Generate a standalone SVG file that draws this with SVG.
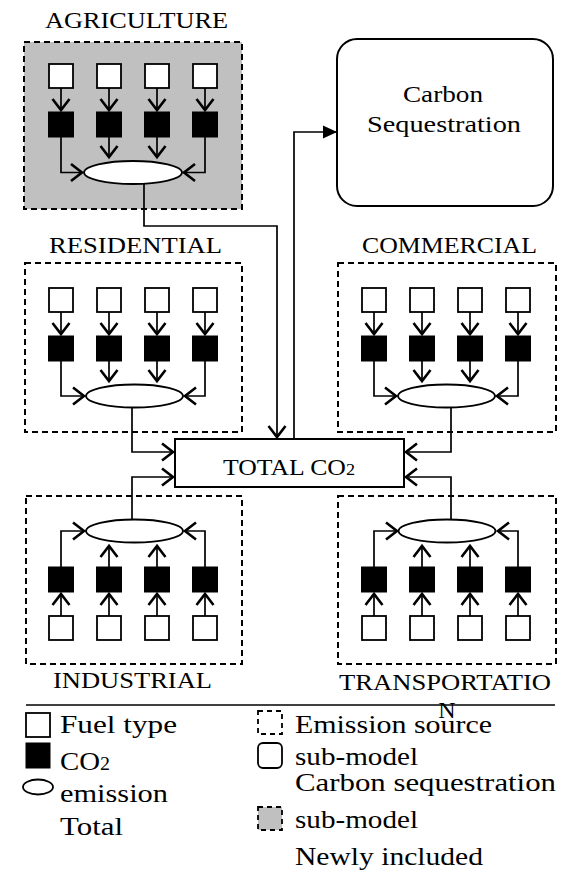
<svg xmlns="http://www.w3.org/2000/svg" xmlns:xlink="http://www.w3.org/1999/xlink" width="566" height="871" viewBox="0 0 566 871">
<style>
text{font-family:'Liberation Serif','DejaVu Serif',serif;fill:#000}
.lbl{font-size:24px}
.leg{font-size:26px}
.src{fill:none;stroke:#000;stroke-width:2;stroke-dasharray:6 4}
.srcg{fill:#c0c0c0;stroke:#000;stroke-width:2;stroke-dasharray:6 4}
.fuel{fill:#fff;stroke:#000;stroke-width:1.8}
.co2{fill:#000;stroke:#000;stroke-width:1}
.tot{fill:#fff;stroke:#000;stroke-width:1.8}
.c{fill:none;stroke:#000;stroke-width:1.7}
.ah{fill:none;stroke:#000;stroke-width:2.6;stroke-linejoin:miter}
</style>
<defs>
<path id="ah" class="ah" d="M-11,-8.5 L0,0 L-11,8.5"/>
<marker id="fa" markerUnits="userSpaceOnUse" markerWidth="16" markerHeight="14" refX="14" refY="6.5" orient="auto" overflow="visible">
<path d="M0,0 L14,6.5 L0,13 Z" fill="#000"/>
</marker>
</defs>

<g id="agriculture">
<text class="lbl" x="136.5" y="28" text-anchor="middle" textLength="183" lengthAdjust="spacingAndGlyphs">AGRICULTURE</text>
<rect class="srcg" x="24" y="42" width="218" height="167"/>
<rect class="fuel" x="49" y="64" width="24" height="24"/><rect class="fuel" x="97" y="64" width="24" height="24"/><rect class="fuel" x="145" y="64" width="24" height="24"/><rect class="fuel" x="193" y="64" width="24" height="24"/>
<rect class="co2" x="48.5" y="112" width="25" height="25"/><rect class="co2" x="96.5" y="112" width="25" height="25"/><rect class="co2" x="144.5" y="112" width="25" height="25"/><rect class="co2" x="192.5" y="112" width="25" height="25"/>
<ellipse class="tot" cx="133" cy="172.5" rx="49" ry="11.5"/>
</g>

<g id="carbon-sequestration">
<rect x="337" y="39" width="216" height="167" rx="20" fill="#fff" stroke="#000" stroke-width="2"/>
<text class="lbl" x="443" y="102" text-anchor="middle" textLength="80" lengthAdjust="spacingAndGlyphs">Carbon</text>
<text class="lbl" x="444" y="132" text-anchor="middle" textLength="154" lengthAdjust="spacingAndGlyphs">Sequestration</text>
</g>

<g id="residential">
<text class="lbl" x="135.5" y="253" text-anchor="middle" textLength="173" lengthAdjust="spacingAndGlyphs">RESIDENTIAL</text>
<rect class="src" x="25" y="263" width="217" height="169"/>
<rect class="fuel" x="49" y="288" width="24" height="24"/><rect class="fuel" x="97" y="288" width="24" height="24"/><rect class="fuel" x="145" y="288" width="24" height="24"/><rect class="fuel" x="193" y="288" width="24" height="24"/>
<rect class="co2" x="48.5" y="336" width="25" height="25"/><rect class="co2" x="96.5" y="336" width="25" height="25"/><rect class="co2" x="144.5" y="336" width="25" height="25"/><rect class="co2" x="192.5" y="336" width="25" height="25"/>
<ellipse class="tot" cx="134.5" cy="396" rx="48.5" ry="11.5"/>
</g>

<g id="commercial">
<text class="lbl" x="449.5" y="253" text-anchor="middle" textLength="175" lengthAdjust="spacingAndGlyphs">COMMERCIAL</text>
<rect class="src" x="338" y="263" width="218" height="169"/>
<rect class="fuel" x="362" y="288" width="24" height="24"/><rect class="fuel" x="410" y="288" width="24" height="24"/><rect class="fuel" x="458" y="288" width="24" height="24"/><rect class="fuel" x="506" y="288" width="24" height="24"/>
<rect class="co2" x="361.5" y="336" width="25" height="25"/><rect class="co2" x="409.5" y="336" width="25" height="25"/><rect class="co2" x="457.5" y="336" width="25" height="25"/><rect class="co2" x="505.5" y="336" width="25" height="25"/>
<ellipse class="tot" cx="446.5" cy="396" rx="48.5" ry="11.5"/>
</g>

<g id="total-co2">
<rect x="175" y="439" width="229" height="48" fill="#fff" stroke="#000" stroke-width="2"/>
<text class="lbl" x="289" y="475" text-anchor="middle" textLength="132" lengthAdjust="spacingAndGlyphs">TOTAL CO<tspan font-size="17">2</tspan></text>
</g>

<g id="industrial">
<rect class="src" x="26" y="496" width="216" height="168"/>
<ellipse class="tot" cx="134.5" cy="531" rx="48.5" ry="11.5"/>
<rect class="co2" x="48.5" y="567" width="25" height="25"/><rect class="co2" x="96.5" y="567" width="25" height="25"/><rect class="co2" x="144.5" y="567" width="25" height="25"/><rect class="co2" x="192.5" y="567" width="25" height="25"/>
<rect class="fuel" x="49" y="616" width="24" height="24"/><rect class="fuel" x="97" y="616" width="24" height="24"/><rect class="fuel" x="145" y="616" width="24" height="24"/><rect class="fuel" x="193" y="616" width="24" height="24"/>
<text class="lbl" x="132.5" y="688" text-anchor="middle" textLength="159" lengthAdjust="spacingAndGlyphs">INDUSTRIAL</text>
</g>

<g id="transportation">
<rect class="src" x="338" y="496" width="218" height="168"/>
<ellipse class="tot" cx="447" cy="531" rx="48.5" ry="11.5"/>
<rect class="co2" x="361.5" y="567" width="25" height="25"/><rect class="co2" x="409.5" y="567" width="25" height="25"/><rect class="co2" x="457.5" y="567" width="25" height="25"/><rect class="co2" x="505.5" y="567" width="25" height="25"/>
<rect class="fuel" x="362" y="616" width="24" height="24"/><rect class="fuel" x="410" y="616" width="24" height="24"/><rect class="fuel" x="458" y="616" width="24" height="24"/><rect class="fuel" x="506" y="616" width="24" height="24"/>
<text class="lbl" x="445" y="690" text-anchor="middle" textLength="212" lengthAdjust="spacingAndGlyphs">TRANSPORTATIO</text>
<text class="lbl" x="447" y="718" text-anchor="middle">N</text>
</g>

<g id="connectors">
<!-- agriculture -->
<path class="c" d="M61,88 V110 M109,88 V110 M157,88 V110 M205,88 V110 M109,137 V157 M157,137 V157 M61,137 V172.5 H82 M205,137 V172.5 H184"/>
<use xlink:href="#ah" href="#ah" transform="translate(61,110) rotate(90)"/><use xlink:href="#ah" href="#ah" transform="translate(109,110) rotate(90)"/><use xlink:href="#ah" href="#ah" transform="translate(157,110) rotate(90)"/><use xlink:href="#ah" href="#ah" transform="translate(205,110) rotate(90)"/>
<use xlink:href="#ah" href="#ah" transform="translate(109,157) rotate(90)"/><use xlink:href="#ah" href="#ah" transform="translate(157,157) rotate(90)"/>
<use xlink:href="#ah" href="#ah" transform="translate(82,172.5)"/><use xlink:href="#ah" href="#ah" transform="translate(184,172.5) rotate(180)"/>
<!-- residential -->
<path class="c" d="M61,312 V334 M109,312 V334 M157,312 V334 M205,312 V334 M109,361 V381 M157,361 V381 M61,361 V396 H84 M205,361 V396 H185"/>
<use xlink:href="#ah" href="#ah" transform="translate(61,334) rotate(90)"/><use xlink:href="#ah" href="#ah" transform="translate(109,334) rotate(90)"/><use xlink:href="#ah" href="#ah" transform="translate(157,334) rotate(90)"/><use xlink:href="#ah" href="#ah" transform="translate(205,334) rotate(90)"/>
<use xlink:href="#ah" href="#ah" transform="translate(109,381) rotate(90)"/><use xlink:href="#ah" href="#ah" transform="translate(157,381) rotate(90)"/>
<use xlink:href="#ah" href="#ah" transform="translate(84,396)"/><use xlink:href="#ah" href="#ah" transform="translate(185,396) rotate(180)"/>
<!-- commercial -->
<path class="c" d="M374,312 V334 M422,312 V334 M470,312 V334 M518,312 V334 M422,361 V381 M470,361 V381 M374,361 V396 H396 M518,361 V396 H497"/>
<use xlink:href="#ah" href="#ah" transform="translate(374,334) rotate(90)"/><use xlink:href="#ah" href="#ah" transform="translate(422,334) rotate(90)"/><use xlink:href="#ah" href="#ah" transform="translate(470,334) rotate(90)"/><use xlink:href="#ah" href="#ah" transform="translate(518,334) rotate(90)"/>
<use xlink:href="#ah" href="#ah" transform="translate(422,381) rotate(90)"/><use xlink:href="#ah" href="#ah" transform="translate(470,381) rotate(90)"/>
<use xlink:href="#ah" href="#ah" transform="translate(396,396)"/><use xlink:href="#ah" href="#ah" transform="translate(497,396) rotate(180)"/>
<!-- industrial -->
<path class="c" d="M61,616 V594 M109,616 V594 M157,616 V594 M205,616 V594 M109,567 V546 M157,567 V546 M61,567 V531 H84 M205,567 V531 H185"/>
<use xlink:href="#ah" href="#ah" transform="translate(61,594) rotate(-90)"/><use xlink:href="#ah" href="#ah" transform="translate(109,594) rotate(-90)"/><use xlink:href="#ah" href="#ah" transform="translate(157,594) rotate(-90)"/><use xlink:href="#ah" href="#ah" transform="translate(205,594) rotate(-90)"/>
<use xlink:href="#ah" href="#ah" transform="translate(109,546) rotate(-90)"/><use xlink:href="#ah" href="#ah" transform="translate(157,546) rotate(-90)"/>
<use xlink:href="#ah" href="#ah" transform="translate(84,531)"/><use xlink:href="#ah" href="#ah" transform="translate(185,531) rotate(180)"/>
<!-- transportation -->
<path class="c" d="M374,616 V594 M422,616 V594 M470,616 V594 M518,616 V594 M422,567 V546 M470,567 V546 M374,567 V531 H397 M518,567 V531 H498"/>
<use xlink:href="#ah" href="#ah" transform="translate(374,594) rotate(-90)"/><use xlink:href="#ah" href="#ah" transform="translate(422,594) rotate(-90)"/><use xlink:href="#ah" href="#ah" transform="translate(470,594) rotate(-90)"/><use xlink:href="#ah" href="#ah" transform="translate(518,594) rotate(-90)"/>
<use xlink:href="#ah" href="#ah" transform="translate(422,546) rotate(-90)"/><use xlink:href="#ah" href="#ah" transform="translate(470,546) rotate(-90)"/>
<use xlink:href="#ah" href="#ah" transform="translate(397,531)"/><use xlink:href="#ah" href="#ah" transform="translate(498,531) rotate(180)"/>
<!-- sectors to total -->
<path class="c" d="M144,184 V226 H277 V437"/>
<use xlink:href="#ah" href="#ah" transform="translate(277,437) rotate(90)"/>
<path class="c" d="M132,407.5 V452 H173"/>
<use xlink:href="#ah" href="#ah" transform="translate(173,452)"/>
<path class="c" d="M132,519.5 V477 H173"/>
<use xlink:href="#ah" href="#ah" transform="translate(173,477)"/>
<path class="c" d="M451,407.5 V452 H406"/>
<use xlink:href="#ah" href="#ah" transform="translate(406,452) rotate(180)"/>
<path class="c" d="M451,519.5 V477 H406"/>
<use xlink:href="#ah" href="#ah" transform="translate(406,477) rotate(180)"/>
<!-- total to carbon sequestration -->
<path class="c" d="M294,439 V132 H337" marker-end="url(#fa)"/>
</g>

<g id="legend">
<line x1="26" y1="705" x2="555" y2="705" stroke="#000" stroke-width="1.6"/>
<rect class="fuel" x="26" y="713" width="24" height="24"/>
<text class="leg" x="60" y="733" textLength="117" lengthAdjust="spacingAndGlyphs">Fuel type</text>
<rect class="co2" x="26" y="743" width="24" height="25"/>
<text class="leg" x="60" y="770" textLength="50" lengthAdjust="spacingAndGlyphs">CO<tspan font-size="18">2</tspan></text>
<ellipse cx="38" cy="787" rx="15" ry="7.5" fill="#fff" stroke="#000" stroke-width="1.8"/>
<text class="leg" x="60" y="802" textLength="108" lengthAdjust="spacingAndGlyphs">emission</text>
<text class="leg" x="60" y="835" textLength="63" lengthAdjust="spacingAndGlyphs">Total</text>
<rect x="258" y="711" width="24" height="23" fill="none" stroke="#000" stroke-width="1.8" stroke-dasharray="5 4"/>
<text class="leg" x="295" y="733" textLength="197" lengthAdjust="spacingAndGlyphs">Emission source</text>
<rect x="258" y="743" width="24" height="25" rx="5" fill="#fff" stroke="#000" stroke-width="1.8"/>
<text class="leg" x="295" y="765" textLength="123" lengthAdjust="spacingAndGlyphs">sub-model</text>
<text class="leg" x="295" y="791" textLength="261" lengthAdjust="spacingAndGlyphs">Carbon sequestration</text>
<rect x="258" y="807" width="24" height="23" fill="#c0c0c0" stroke="#000" stroke-width="1.8" stroke-dasharray="5 4"/>
<text class="leg" x="295" y="828" textLength="123" lengthAdjust="spacingAndGlyphs">sub-model</text>
<text class="leg" x="295" y="865" textLength="188" lengthAdjust="spacingAndGlyphs">Newly included</text>
</g>
</svg>
